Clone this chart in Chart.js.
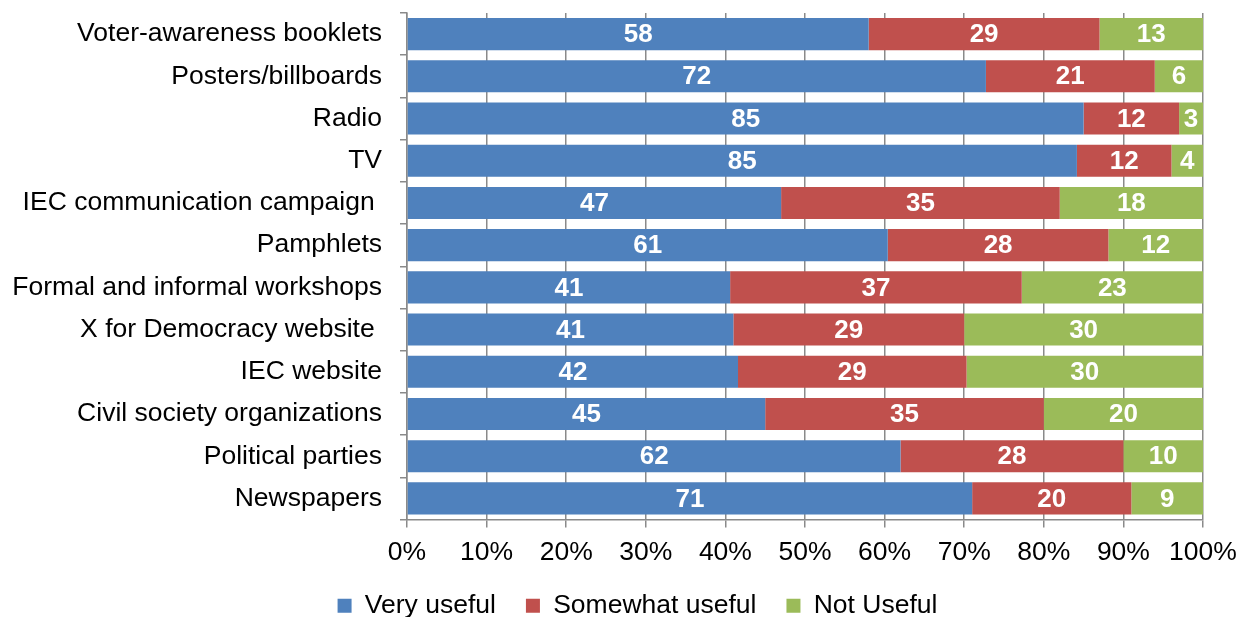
<!DOCTYPE html>
<html lang="en">
<head>
    <meta charset="UTF-8">
    <title>Usefulness of voter information sources</title>
    <script src="https://cdn.jsdelivr.net/npm/chart.js"></script>
    <style>
        html, body { margin: 0; padding: 0; background: #fff; }
        #box { width: 1250px; height: 617px; }
    </style>
</head>
<body>
    <div id="box"><canvas id="grafico"></canvas></div>

<script>
// categories, top to bottom
const fontes = [
    'Voter-awareness booklets',
    'Posters/billboards',
    'Radio',
    'TV',
    'IEC communication campaign ',
    'Pamphlets',
    'Formal and informal workshops',
    'X for Democracy website ',
    'IEC website',
    'Civil society organizations',
    'Political parties',
    'Newspapers'
];

// answers in percent, as printed on the bars
const muitoUtil   = [58, 72, 85, 85, 47, 61, 41, 41, 42, 45, 62, 71];
const poucoUtil   = [29, 21, 12, 12, 35, 28, 37, 29, 29, 35, 28, 20];
const nadaUtil    = [13,  6,  3,  4, 18, 12, 23, 30, 30, 20, 10,  9];

const eixoX = [0, 10, 20, 30, 40, 50, 60, 70, 80, 90, 100];

const cores = ['#4F81BD', '#C0504D', '#9BBB59'];
const fonte = '"Liberation Sans", Arial, sans-serif';

// 100% stacked: each row is scaled so the three parts fill the bar
const totais = fontes.map((_, i) => muitoUtil[i] + poucoUtil[i] + nadaUtil[i]);
function partes(valores) {
    return valores.map((v, i) => v / totais[i] * 100);
}

const series = [
    { label: 'Very useful', valores: muitoUtil },
    { label: 'Somewhat useful', valores: poucoUtil },
    { label: 'Not Useful', valores: nadaUtil }
];

// white numbers in the middle of each segment
const rotulos = {
    id: 'rotulos',
    afterDatasetsDraw(chart) {
        const ctx = chart.ctx;
        ctx.save();
        ctx.fillStyle = '#fff';
        ctx.font = 'bold 26px ' + fonte;
        ctx.textAlign = 'center';
        ctx.textBaseline = 'middle';
        chart.data.datasets.forEach((ds, d) => {
            chart.getDatasetMeta(d).data.forEach((barra, i) => {
                const p = barra.getProps(['x', 'y', 'base'], true);
                ctx.fillText(String(ds.valores[i]), (p.x + p.base) / 2, p.y + 1);
            });
        });
        ctx.restore();
    }
};

// legend sits a bit right of the centre, under the bars
const moveLegenda = {
    id: 'moveLegenda',
    afterLayout(chart) {
        chart.legend.left += 36;
        chart.legend.right += 36;
    }
};

const config = {
    type: 'bar',
    data: {
        labels: fontes,
        datasets: series.map((s, k) => ({
            label: s.label,
            valores: s.valores,
            data: partes(s.valores),
            backgroundColor: cores[k],
            borderWidth: 0,
            barPercentage: 0.76,
            categoryPercentage: 1
        }))
    },
    options: {
        indexAxis: 'y',
        responsive: false,
        animation: false,
        layout: { padding: { top: 13, right: 47, left: 0, bottom: -12 } },
        scales: {
            x: {
                stacked: true,
                min: 0,
                max: 100,
                afterBuildTicks: (scale) => { scale.ticks = eixoX.map(v => ({ value: v })); },
                afterFit: (scale) => { scale.height = 43; },
                grid: { color: '#8a8a8a', lineWidth: 1.5, tickLength: 8 },
                border: { color: '#8a8a8a', width: 1.5 },
                ticks: {
                    color: '#000',
                    font: { family: fonte, size: 26.5 },
                    padding: 9,
                    callback: (v) => v + '%'
                }
            },
            y: {
                stacked: true,
                afterFit: (scale) => {
                    scale.width = 407;
                    scale.paddingTop = 0;
                    scale.paddingBottom = 0;
                },
                grid: { display: true, drawOnChartArea: false, color: '#8a8a8a', lineWidth: 1.5, tickLength: 7, offset: true },
                border: { color: '#8a8a8a', width: 1.5 },
                ticks: {
                    color: '#000',
                    font: { family: fonte, size: 26.5 },
                    padding: 18
                }
            }
        },
        plugins: {
            legend: {
                position: 'bottom',
                labels: {
                    color: '#000',
                    font: { family: fonte, size: 26.5 },
                    boxWidth: 14,
                    boxHeight: 14,
                    padding: 30
                }
            },
            tooltip: { enabled: false }
        }
    },
    plugins: [rotulos, moveLegenda]
};

const canvas = document.getElementById('grafico');
canvas.width = 1250;
canvas.height = 617;
new Chart(canvas, config);
</script>
</body>
</html>
